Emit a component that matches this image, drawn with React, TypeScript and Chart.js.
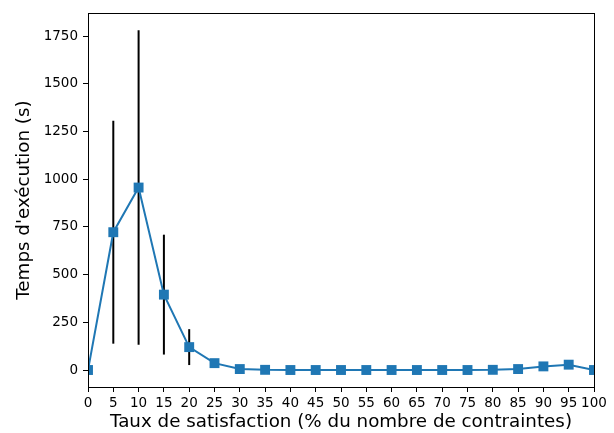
import React, { useEffect, useRef } from "react";
import { Chart, registerables } from "chart.js";

Chart.register(...registerables);

const xValues = [0, 5, 10, 15, 20, 25, 30, 35, 40, 45, 50, 55, 60, 65, 70, 75, 80, 85, 90, 95, 100];
const yMeans = [0, 722, 956, 395, 120, 36, 5, 1, 0, 0, 0, 0, 0, 0, 0, 0, 1, 5, 19, 28, 0];
const yErrors = [0, 584, 824, 314, 94, 0, 0, 0, 0, 0, 0, 0, 0, 0, 0, 0, 0, 0, 0, 0, 0];
const yTickValues = [0, 250, 500, 750, 1000, 1250, 1500, 1750];
const xTitle = "Taux de satisfaction (% du nombre de contraintes)";
const yTitle = "Temps d'exécution (s)";

const FONT = "'DejaVu Sans', sans-serif";

const errorBarPlugin = {
  id: "errorBars",
  beforeDatasetsDraw(chart: any) {
    const { ctx, chartArea, scales } = chart;
    ctx.save();
    ctx.beginPath();
    ctx.rect(chartArea.left, chartArea.top, chartArea.right - chartArea.left, chartArea.bottom - chartArea.top);
    ctx.clip();
    ctx.strokeStyle = "#000";
    ctx.lineWidth = 2;
    xValues.forEach((x, i) => {
      const e = yErrors[i];
      if (!e) return;
      const px = scales.x.getPixelForValue(x);
      const y1 = scales.y.getPixelForValue(yMeans[i] - e);
      const y2 = scales.y.getPixelForValue(yMeans[i] + e);
      ctx.beginPath();
      ctx.moveTo(px, y1);
      ctx.lineTo(px, y2);
      ctx.stroke();
    });
    ctx.restore();
  },
};

const framePlugin = {
  id: "frame",
  afterDraw(chart: any) {
    const { ctx, chartArea } = chart;
    ctx.save();
    ctx.strokeStyle = "#000";
    ctx.lineWidth = 1;
    ctx.strokeRect(
      Math.round(chartArea.left) + 0.5,
      Math.round(chartArea.top) + 0.5,
      Math.round(chartArea.right - chartArea.left),
      Math.round(chartArea.bottom - chartArea.top)
    );
    ctx.restore();
  },
};

export default function App() {
  const ref = useRef<HTMLCanvasElement>(null);
  useEffect(() => {
    document.body.style.margin = "0";
    const chart = new Chart(ref.current as HTMLCanvasElement, {
      type: "line",
      data: {
        datasets: [
          {
            data: xValues.map((x, i) => ({ x, y: yMeans[i] })),
            borderColor: "#1f77b4",
            backgroundColor: "#1f77b4",
            borderWidth: 2,
            pointStyle: "rect",
            pointRadius: 7,
            pointBorderWidth: 0,
            tension: 0,
          },
        ],
      },
      options: {
        animation: false,
        responsive: false,
        maintainAspectRatio: false,
        layout: { padding: { left: 0, top: 11, right: 20, bottom: 0 } },
        plugins: { legend: { display: false }, tooltip: { enabled: false } },
        scales: {
          x: {
            type: "linear",
            min: 0,
            max: 100,
            afterFit: (s: any) => {
              s.height = 46;
            },
            afterBuildTicks: (s: any) => {
              s.ticks = xValues.map((v) => ({ value: v }));
            },
            ticks: {
              autoSkip: false,
              maxRotation: 0,
              padding: 3,
              color: "#000",
              font: { family: FONT, size: 13.5 },
              callback: (v: any) => String(v),
            },
            grid: { drawOnChartArea: false, drawTicks: true, tickLength: 5, color: "#000" },
            border: { display: true, color: "#000" },
            title: {
              display: true,
              text: xTitle,
              color: "#000",
              font: { family: FONT, size: 18.3 },
              padding: { top: 0, bottom: 0 },
            },
          },
          y: {
            type: "linear",
            min: -89,
            max: 1870,
            afterFit: (s: any) => {
              s.width = 88;
            },
            afterBuildTicks: (s: any) => {
              s.ticks = yTickValues.map((v) => ({ value: v }));
            },
            ticks: {
              autoSkip: false,
              padding: 5,
              color: "#000",
              font: { family: FONT, size: 13.5 },
              callback: (v: any) => String(v),
            },
            grid: { drawOnChartArea: false, drawTicks: true, tickLength: 5, color: "#000" },
            border: { display: true, color: "#000" },
            title: {
              display: true,
              text: yTitle,
              color: "#000",
              font: { family: FONT, size: 18.3 },
              padding: { top: 13, bottom: 0 },
            },
          },
        },
      },
      plugins: [errorBarPlugin, framePlugin],
    } as any);
    return () => chart.destroy();
  }, []);
  return (
    <div style={{ position: "absolute", left: 0, top: 0, width: 614, height: 433 }}>
      <canvas ref={ref} width={614} height={433} style={{ width: 614, height: 433 }} />
    </div>
  );
}
